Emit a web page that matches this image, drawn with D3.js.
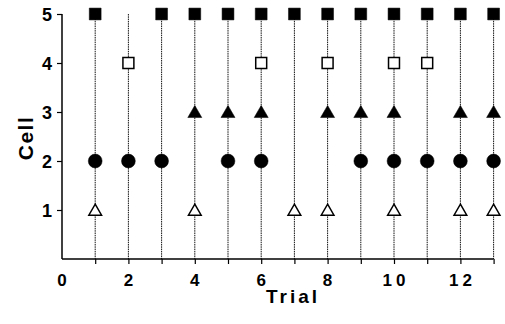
<!DOCTYPE html>
<html>
<head>
<meta charset="utf-8">
<script src="https://cdn.jsdelivr.net/npm/d3@7/dist/d3.min.js"></script>
<style>
  body { margin: 0; background: #fff; }
  svg text { font-family: "Liberation Sans", Arial, sans-serif; font-weight: bold; fill: #000; }
</style>
</head>
<body>
<svg id="chart" width="505" height="324"></svg>
<script>
// DATA
var trials = [1,2,3,4,5,6,7,8,9,10,11,12,13];
var xTicks = [0,2,4,6,8,10,12];
var yTicks = [1,2,3,4,5];
// trials where each cell was visited
var cell5 = [1,3,4,5,6,7,8,9,10,11,12,13];   // filled square
var cell4 = [2,6,8,10,11];                    // open square
var cell3 = [4,5,6,8,9,10,12,13];             // filled triangle
var cell2 = [1,2,3,5,6,9,10,11,12,13];        // filled circle
var cell1 = [1,4,7,8,10,12,13];               // open triangle

var margin = { top: 14, right: 11, bottom: 65, left: 62 };
var svg = d3.select('#chart');
var width = 505 - margin.left - margin.right;
var height = 324 - margin.top - margin.bottom;

var x = d3.scaleLinear().domain([0, 13]).range([0, 431.6]);
var y = d3.scaleLinear().domain([0, 5]).range([height, 0]);

var g = svg.append('g').attr('transform', 'translate(' + margin.left + ',' + margin.top + ')');

// vertical trial lines
g.selectAll('.trial-line')
	.data(trials)
	.enter().append('line')
	.attr('class', 'trial-line')
	.attr('x1', function(d) { return x(d); })
	.attr('x2', function(d) { return x(d); })
	.attr('y1', y(5))
	.attr('y2', y(0))
	.attr('stroke', '#111')
	.attr('stroke-width', 1)
	.attr('stroke-dasharray', '1.5,0.8');

// axes
var axisX = d3.axisBottom(x).tickValues(trials).tickSize(5).tickFormat('');
var gx = g.append('g').attr('transform', 'translate(0,' + height + ')').call(axisX);
gx.select('.domain').attr('d', 'M0,0H' + x(13)).attr('stroke-width', 1.5);
gx.selectAll('.tick line').attr('stroke-width', 1.2);

g.append('g')
	.attr('transform', 'translate(0,' + height + ')')
	.selectAll('text')
	.data(xTicks)
	.enter().append('text')
	.attr('x', function(d) { return x(d) + (d >= 10 ? 2 : 0); })
	.attr('y', 27)
	.attr('text-anchor', 'middle')
	.attr('font-size', 17)
	.style('letter-spacing', function(d) { return d >= 10 ? '4px' : '0px'; })
	.text(function(d) { return d; });

var axisY = d3.axisLeft(y).tickValues(yTicks).tickSize(5).tickPadding(5).tickFormat(d3.format('d'));
var gy = g.append('g').call(axisY);
gy.attr('font-size', 18).attr('font-family', null);
gy.select('.domain').attr('d', 'M0,' + y(5) + 'V' + y(0)).attr('stroke-width', 1.5);
gy.selectAll('.tick line').attr('stroke-width', 1.2);
gy.selectAll('.tick text').attr('dy', '0.36em');

// axis labels
svg.append('text')
	.attr('transform', 'translate(33,138)rotate(-90)')
	.attr('text-anchor', 'middle')
	.attr('font-size', 21)
	.style('letter-spacing', '1.5px')
	.text('Cell');

svg.append('text')
	.attr('x', 293)
	.attr('y', 303)
	.attr('text-anchor', 'middle')
	.attr('font-size', 19)
	.style('letter-spacing', '3px')
	.text('Trial');

// markers
function drawSeries(list, level, symType, size, filled) {
	var sym = d3.symbol().type(symType).size(size);
	g.selectAll(null)
		.data(list)
		.enter().append('path')
		.attr('d', sym)
		.attr('transform', function(d) {
			var dy = symType === d3.symbolTriangle ? 1.5 : 0;
			return 'translate(' + x(d) + ',' + (y(level) + dy) + ')';
		})
		.attr('fill', filled ? '#000' : '#fff')
		.attr('stroke', '#000')
		.attr('stroke-width', filled ? 0.5 : 1.5);
}

drawSeries(cell5, 5, d3.symbolSquare, 140, true);
drawSeries(cell4, 4, d3.symbolSquare, 120, false);
drawSeries(cell3, 3, d3.symbolTriangle, 85, true);
drawSeries(cell2, 2, d3.symbolCircle, 150, true);
drawSeries(cell1, 1, d3.symbolTriangle, 70, false);
</script>
</body>
</html>
